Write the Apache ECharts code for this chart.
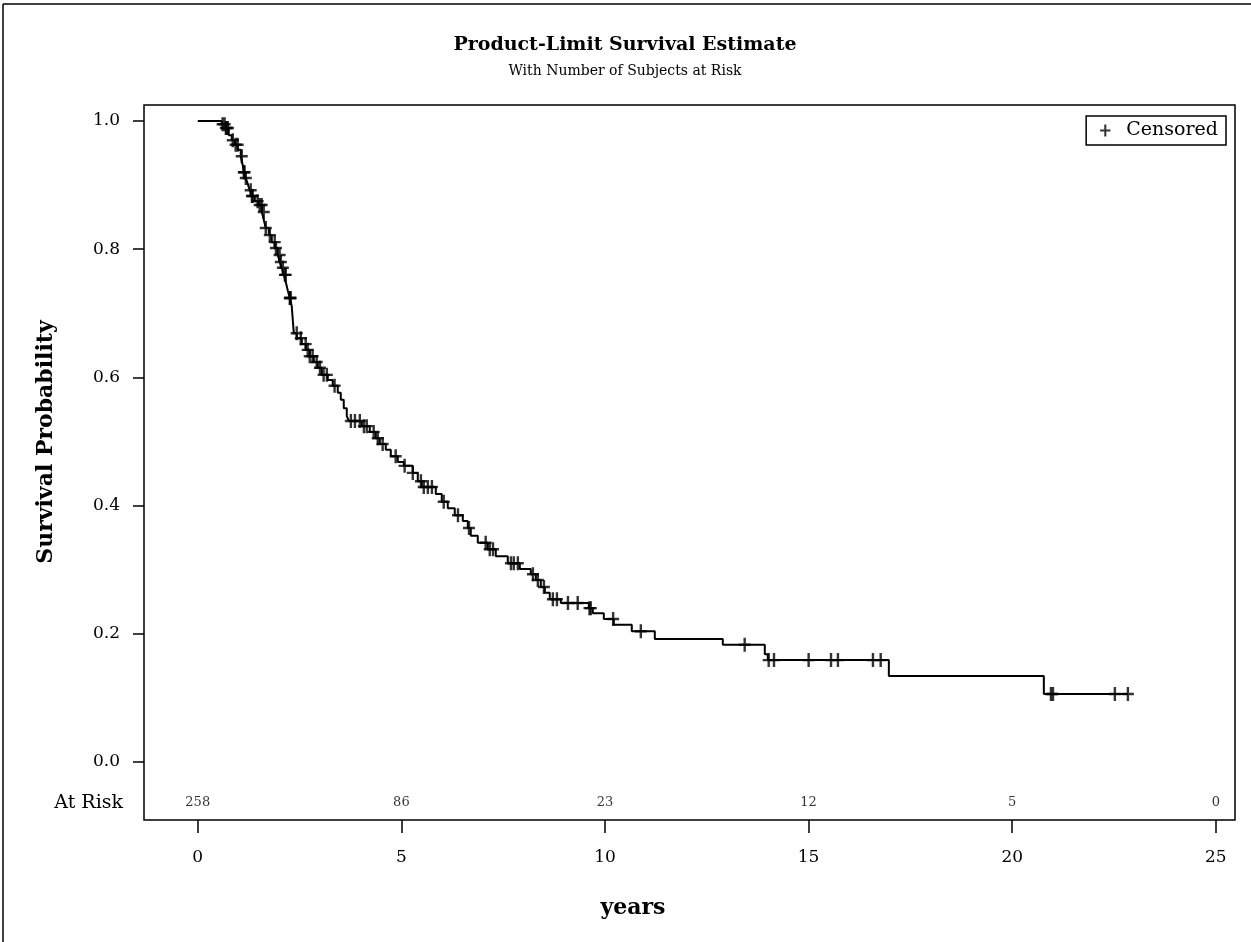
<!DOCTYPE html>
<html>
<head>
<meta charset="utf-8">
<script src="https://cdn.jsdelivr.net/npm/echarts@6/dist/echarts.min.js"></script>
<style>
html,body{margin:0;padding:0;background:#fff;}
#chart{width:1251px;height:942px;}
</style>
</head>
<body>
<div id="chart"></div>
<script>
// Kaplan-Meier step points: event times (years) and survival after each event
const stepTimes = [0.589,0.688,0.761,0.835,0.909,0.982,1.056,1.105,1.130,1.179,1.228,1.277,1.326,1.400,1.498,1.572,1.621,1.670,1.744,1.817,1.891,1.965,2.014,2.063,2.112,2.161,2.210,2.259,2.308,2.333,2.358,2.431,2.554,2.652,2.750,2.849,2.947,3.045,3.193,3.315,3.438,3.512,3.585,3.659,3.708,4.028,4.224,4.371,4.470,4.617,4.740,4.912,5.059,5.280,5.403,5.501,5.845,5.992,6.139,6.311,6.508,6.631,6.704,6.876,7.122,7.318,7.613,7.908,8.178,8.301,8.423,8.522,8.644,8.915,9.602,9.700,9.971,10.216,10.658,11.223,12.893,13.924,13.998,16.970,20.776];
const stepSurv = [0.995,0.989,0.978,0.970,0.963,0.955,0.945,0.931,0.920,0.911,0.902,0.892,0.883,0.875,0.869,0.858,0.846,0.833,0.822,0.811,0.802,0.791,0.780,0.771,0.760,0.749,0.736,0.724,0.711,0.690,0.669,0.661,0.652,0.643,0.633,0.624,0.615,0.604,0.596,0.587,0.576,0.565,0.552,0.540,0.532,0.524,0.515,0.505,0.496,0.487,0.477,0.468,0.462,0.451,0.438,0.429,0.418,0.406,0.396,0.385,0.376,0.365,0.353,0.342,0.332,0.321,0.310,0.301,0.293,0.284,0.273,0.264,0.254,0.248,0.240,0.232,0.223,0.214,0.204,0.192,0.183,0.168,0.159,0.134,0.106];
// Censored observation times (years)
const censorTimes = [0.61,0.66,0.69,0.71,0.74,0.86,0.93,0.98,1.08,1.13,1.15,1.18,1.30,1.33,1.35,1.47,1.52,1.57,1.62,1.67,1.77,1.89,1.92,2.01,2.04,2.09,2.14,2.16,2.26,2.27,2.28,2.43,2.53,2.65,2.70,2.75,2.82,2.92,3.00,3.09,3.17,3.36,3.76,3.86,3.98,4.08,4.15,4.32,4.42,4.54,4.86,5.08,5.28,5.48,5.55,5.65,5.75,6.04,6.39,6.66,7.07,7.17,7.25,7.69,7.76,7.86,8.23,8.35,8.50,8.72,8.82,9.09,9.33,9.62,9.65,10.20,10.88,13.43,14.02,14.15,15.00,15.55,15.72,16.58,16.77,20.95,21.00,22.52,22.84];
// Number at risk
const atRiskTimes = [0,5,10,15,20,25];
const atRiskCounts = [258,86,23,12,5,0];
// Tick values
const xTicks = [0,5,10,15,20,25];
const yTicks = [0,0.2,0.4,0.6,0.8,1.0];

const FONT = 'DejaVu Serif';

function survAt(t){
  let s = 1;
  for (let i=0;i<stepTimes.length;i++){ if (stepTimes[i] <= t) s = stepSurv[i]; else break; }
  return s;
}
const lastT = Math.max(...censorTimes);
const lineData = [[0,1]];
stepTimes.forEach((t,i)=>lineData.push([t, stepSurv[i]]));
lineData.push([lastT, survAt(lastT)]);
const censorData = censorTimes.map(t=>[t, survAt(t)]);
const atRiskY = -0.064;
const atRiskData = atRiskTimes.map((t,i)=>[t, atRiskY, atRiskCounts[i]]);

const plusPath = 'path://M4.8,0 H7.2 V5.8 H12 V8.2 H7.2 V14 H4.8 V8.2 H0 V5.8 H4.8 Z';

const chart = echarts.init(document.getElementById('chart'), null, {renderer:'canvas'});
chart.setOption({
  animation:false,
  backgroundColor:'#fff',
  grid:{left:144,top:105,right:16,bottom:122,show:true,borderColor:'#000',borderWidth:1.5,backgroundColor:'transparent'},
  xAxis:{
    type:'value', min:-1.32, max:25.47, position:'bottom',
    axisLine:{show:false, onZero:false},
    axisTick:{show:true, inside:false, length:13, lineStyle:{color:'#000',width:1.5}, customValues:xTicks},
    axisLabel:{show:true, margin:29, color:'#000', fontFamily:FONT, fontSize:17, customValues:xTicks, formatter:v=>String(v)},
    splitLine:{show:false}
  },
  yAxis:{
    type:'value', min:-0.0905, max:1.025, position:'left',
    axisLine:{show:false, onZero:false},
    axisTick:{show:true, inside:false, length:11, lineStyle:{color:'#000',width:1.5}, customValues:yTicks},
    axisLabel:{show:true, margin:24, color:'#000', fontFamily:FONT, fontSize:17, customValues:yTicks, formatter:v=>v.toFixed(1)},
    splitLine:{show:false}
  },
  legend:{
    data:[{name:'Censored', icon:plusPath}],
    right:25, top:116, orient:'horizontal',
    itemWidth:12, itemHeight:12, itemGap:6,
    padding:[5,8,5,14],
    borderColor:'#000', borderWidth:1.5, backgroundColor:'#fff',
    textStyle:{fontFamily:FONT, fontSize:19, color:'#000', padding:[0,0,0,10]},
    selectedMode:false
  },
  series:[
    {
      name:'Survival', type:'line', step:'end', data:lineData,
      showSymbol:false, symbol:'none',
      lineStyle:{color:'#000', width:2}, z:2, silent:true
    },
    {
      name:'Censored', type:'scatter', data:censorData,
      symbol:plusPath, symbolSize:[12,14],
      itemStyle:{color:'#000'}, z:3, silent:true
    },
    {
      name:'AtRisk', type:'scatter', data:atRiskData, symbolSize:0,
      label:{show:true, position:'inside', color:'#000', fontFamily:FONT, fontSize:13,
             formatter:p=>String(p.value[2])},
      silent:true
    }
  ],
  graphic:[
    {type:'line', shape:{x1:3,y1:4,x2:1251,y2:4}, style:{stroke:'#000',lineWidth:1.5}},
    {type:'line', shape:{x1:3,y1:4,x2:3,y2:942}, style:{stroke:'#000',lineWidth:1.5}},
    {type:'text', x:625, y:45, style:{text:'Product-Limit Survival Estimate', fill:'#000', font:'bold 19px "DejaVu Serif"', textAlign:'center', textVerticalAlign:'middle'}},
    {type:'text', x:625, y:71, style:{text:'With Number of Subjects at Risk', fill:'#000', font:'14px "DejaVu Serif"', textAlign:'center', textVerticalAlign:'middle'}},
    {type:'text', x:46, y:442, rotation:Math.PI/2, style:{text:'Survival Probability', fill:'#000', font:'bold 22px "DejaVu Serif"', textAlign:'center', textVerticalAlign:'middle'}},
    {type:'text', x:633, y:908, style:{text:'years', fill:'#000', font:'bold 22px "DejaVu Serif"', textAlign:'center', textVerticalAlign:'middle'}},
    {type:'text', x:123, y:803, style:{text:'At Risk', fill:'#000', font:'19px "DejaVu Serif"', textAlign:'right', textVerticalAlign:'middle'}}
  ]
});
</script>
</body>
</html>
